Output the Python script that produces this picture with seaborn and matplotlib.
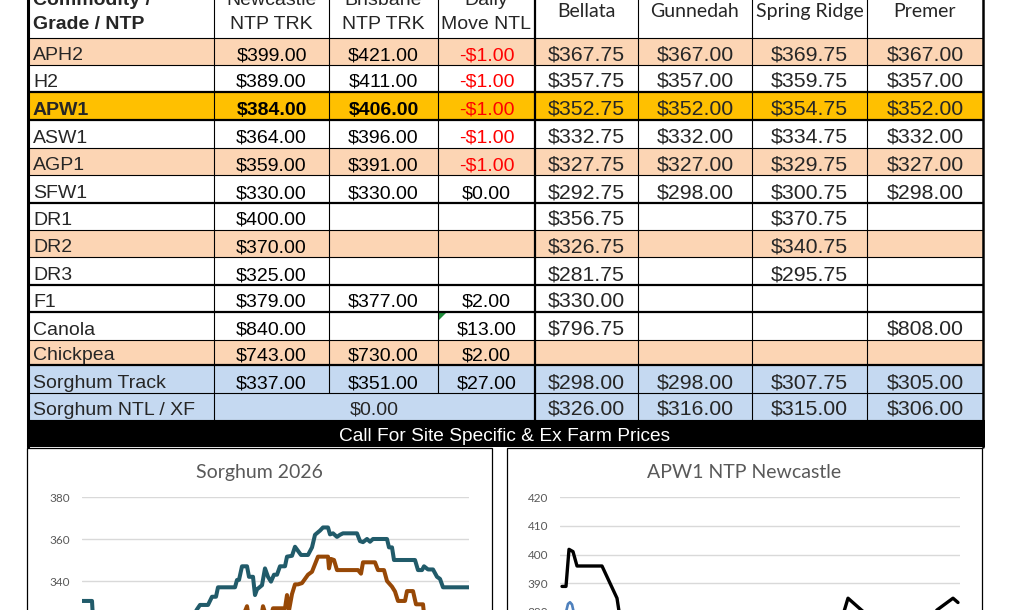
import numpy as np
import pandas as pd
import seaborn as sns
import matplotlib.pyplot as plt
from matplotlib.patches import Rectangle, Polygon

sns.set_style("white")
plt.rcParams['font.family'] = ['Liberation Sans', 'DejaVu Sans']

# ---- price table
grades = ["APH2", "H2", "APW1", "ASW1", "AGP1", "SFW1", "DR1", "DR2", "DR3",
          "F1", "Canola", "Chickpea", "Sorghum Track", "Sorghum NTL / XF"]
newcastle = [399, 389, 384, 364, 359, 330, 400, 370, 325, 379, 840, 743, 337, 0]
brisbane = [421, 411, 406, 396, 391, 330, None, None, None, 377, None, 730, 351, None]
daily_move = [-1, -1, -1, -1, -1, 0, None, None, None, 2, 13, 2, 27, None]
bellata = [367.75, 357.75, 352.75, 332.75, 327.75, 292.75, 356.75, 326.75, 281.75,
           330.00, 796.75, None, 298.00, 326.00]
gunnedah = [367, 357, 352, 332, 327, 298, None, None, None, None, None, None, 298, 316]
spring_ridge = [369.75, 359.75, 354.75, 334.75, 329.75, 300.75, 370.75, 340.75, 295.75,
                None, None, None, 307.75, 315]
premer = [367, 357, 352, 332, 327, 298, None, None, None, None, 808, None, 305, 306]
site_names = ["Bellata", "Gunnedah", "Spring Ridge", "Premer"]
banner = "Call For Site Specific & Ex Farm Prices"

# ---- Sorghum 2026 chart (day index, price)
sorghum_a_day = [0, 10, 11, 12, 40, 80, 105, 112, 115, 118, 126, 130, 134, 136, 153, 155,
                 157, 160, 165, 167, 171, 173, 175, 180, 183, 186, 189, 192, 195, 198, 203,
                 205, 210, 213, 215, 219, 226, 230, 233, 238, 241, 246, 248, 251, 255, 258,
                 261, 275, 278, 281, 285, 288, 291, 305, 307, 310, 312, 333, 336, 340, 342,
                 346, 351, 355, 358, 361, 387]
sorghum_a = [330.5, 330.5, 322, 318, 316, 317, 320, 324, 326.5, 328.6, 328.6, 332.5, 332.5,
             337, 337, 340.5, 340.5, 347, 347, 342, 342, 333.3, 336, 338, 346, 342, 339.7,
             343, 343, 347, 347, 351.6, 352, 356.3, 355, 352.4, 352.4, 356, 362, 364, 365.5,
             365.5, 362.2, 362.7, 361, 362, 362.7, 362.7, 359, 358.5, 360, 358.7, 360, 360,
             356, 356, 350, 350, 345.2, 345.2, 347, 345.5, 345.5, 342, 341, 337, 337]
sorghum_b_day = [0, 60, 120, 150, 160, 165, 166, 180, 181, 183, 190, 191, 203, 205, 207, 210,
                 213, 216, 220, 223, 226, 230, 233, 236, 246, 247, 249, 252, 255, 276, 279,
                 281, 293, 296, 302, 305, 310, 313, 316, 323, 325, 331, 334, 341, 343, 350,
                 387]
sorghum_b = [312, 308, 312, 318, 322, 328, 325, 325, 328, 325, 325, 327, 327, 333.3, 326,
             333.8, 338.4, 338.4, 339, 341, 343, 344.4, 348, 351.6, 351.6, 346, 350.5, 350,
             345.2, 345.2, 343.5, 348.9, 348.9, 345.2, 345.2, 340, 337.3, 335, 330.5, 330.5,
             335.2, 335.2, 328.9, 328.9, 320, 315, 312]

# ---- APW1 NTP Newcastle chart (day index, price)
apw1_day = [2, 6, 9, 13, 17, 42, 57, 60, 80, 120, 160, 200, 240, 270, 283, 288, 302, 320,
            350, 370, 377, 393, 398]
apw1 = [388.9, 388.9, 401.8, 401, 396, 396, 384.8, 378, 372, 368, 366, 368, 372, 376, 379,
        384.8, 380.5, 376, 374, 377, 380.7, 384.8, 383.3]
apw1_b_day = [2, 6, 8, 10, 12, 15, 25, 40, 100, 200, 300, 398]
apw1_b = [376, 380, 382.8, 383.4, 382.6, 378, 372, 366, 358, 356, 362, 364]

W, H = 1015, 610
fig = plt.figure(figsize=(W / 100, H / 100), dpi=100)
ax = fig.add_axes([0, 0, 1, 1])
ax.set_xlim(0, W)
ax.set_ylim(H, 0)
ax.axis('off')

col_x = [28, 214, 329, 438, 535, 638, 752, 867, 983]
row_y = [38, 65, 92, 120, 148, 175, 203, 230, 257, 285, 312, 340, 365, 393, 420]
top = -20
peach, gold, blue = '#FCD5B4', '#FFC000', '#C5D9F1'
row_fill = [peach, 'white', gold, 'white', peach, 'white', 'white', peach, 'white',
            'white', 'white', peach, blue, blue]
thick_rows = {92, 120, 203, 285, 312, 365}
thin, bold_lw = 0.8, 1.6

for i, c in enumerate(row_fill):
    ax.add_patch(Rectangle((col_x[0], row_y[i]), col_x[-1] - col_x[0],
                           row_y[i + 1] - row_y[i], facecolor=c, edgecolor='none'))

# horizontal rules
for y in row_y:
    ax.plot([col_x[0], col_x[-1]], [y, y], color='black',
            lw=bold_lw if y in thick_rows else thin, solid_capstyle='butt')
# vertical rules
for x in col_x[1:-1]:
    lw = bold_lw if x == 535 else thin
    y_end = row_y[-2] if x in (329, 438) else row_y[-1]
    ax.plot([x, x], [top, y_end], color='black', lw=lw)
ax.plot([col_x[0], col_x[0]], [top, 447], color='black', lw=2.2)
ax.plot([col_x[-1], col_x[-1]], [top, 447], color='black', lw=1.8)


def money(v):
    if v is None:
        return ''
    if v < 0:
        return f"-${abs(v):.2f}"
    return f"${v:.2f}"


# header
ax.text(33, 5, "Commodity /", fontsize=14, fontweight='bold', va='baseline')
ax.text(33, 29, "Grade / NTP", fontsize=14, fontweight='bold', va='baseline')
for (l1, l2), j in zip([("Newcastle", "NTP TRK"), ("Brisbane", "NTP TRK"),
                        ("Daily", "Move NTL")], range(1, 4)):
    cx = (col_x[j] + col_x[j + 1]) / 2
    ax.text(cx, 5, l1, fontsize=14, ha='center', va='baseline')
    ax.text(cx, 29, l2, fontsize=14, ha='center', va='baseline')
for name, j in zip(site_names, range(4, 8)):
    cx = (col_x[j] + col_x[j + 1]) / 2
    ax.text(cx, 17, name, fontsize=14, ha='center', va='baseline', family=['Lato', 'DejaVu Sans'])

# body
left_cols = [newcastle, brisbane, daily_move]
right_cols = [bellata, gunnedah, spring_ridge, premer]
for i, g in enumerate(grades):
    base = row_y[i + 1] - 5
    weight = 'bold' if g == "APW1" else 'normal'
    ax.text(33, base, g, fontsize=14, va='baseline', fontweight=weight)
    if g == "Sorghum NTL / XF":
        ax.text((col_x[1] + col_x[4]) / 2, base, money(newcastle[i]), fontsize=14,
                ha='center', va='baseline')
    else:
        for j, col in enumerate(left_cols):
            v = col[i]
            cx = (col_x[j + 1] + col_x[j + 2]) / 2
            clr = 'red' if (j == 2 and v is not None and v < 0) else 'black'
            w = weight if j < 2 else 'normal'
            ax.text(cx, base, money(v), fontsize=14, ha='center', va='baseline',
                    color=clr, fontweight=w)
    for j, col in enumerate(right_cols):
        cx = (col_x[j + 4] + col_x[j + 5]) / 2
        ax.text(cx, base, money(col[i]), fontsize=15.3, ha='center', va='baseline')

# comment marker on Canola daily move
ax.add_patch(Polygon([[439, 313], [446, 313], [439, 320]], closed=True,
                     facecolor='#1E8C3A', edgecolor='none'))

# black banner
ax.add_patch(Rectangle((27, 420), 958, 27, facecolor='black', edgecolor='none'))
ax.text(505, 441, banner, fontsize=13.8, color='white', ha='center', va='baseline')

# chart frames
ax.add_patch(Rectangle((27, 448), 465.5, 200, facecolor='white', edgecolor='black', lw=0.9))
ax.add_patch(Rectangle((507, 448), 475, 200, facecolor='white', edgecolor='black', lw=0.9))
ax.text(259.5, 478, "Sorghum 2026", fontsize=14, color='#595959', ha='center',
        va='baseline', family=['Lato', 'DejaVu Sans'])
ax.text(744.5, 478, "APW1 NTP Newcastle", fontsize=14, color='#595959', ha='center',
        va='baseline', family=['Lato', 'DejaVu Sans'])


def style_chart(a, ticks):
    a.patch.set_visible(False)
    a.set_yticks(ticks)
    a.set_xticks([])
    a.set_xlabel('')
    a.set_ylabel('')
    a.grid(axis='y', color='#D9D9D9', lw=1)
    a.set_axisbelow(True)
    for s in a.spines.values():
        s.set_visible(False)
    a.tick_params(axis='y', length=0, pad=8.6, labelsize=8.5, labelcolor='#595959')
    for lab in a.get_yticklabels():
        lab.set_fontfamily('Lato')


ax1 = fig.add_axes([82 / W, 1 - (497 + 168) / H, 387 / W, 168 / H])
sns.lineplot(x=sorghum_a_day, y=sorghum_a, ax=ax1, color='#215B6A', lw=2.9,
             estimator=None, sort=False)
sns.lineplot(x=sorghum_b_day, y=sorghum_b, ax=ax1, color='#974806', lw=2.9,
             estimator=None, sort=False)
ax1.set_xlim(0, 387)
ax1.set_ylim(300, 380)
style_chart(ax1, [300, 320, 340, 360, 380])

ax2 = fig.add_axes([560 / W, 1 - (497 + 230) / H, 400 / W, 230 / H])
sns.lineplot(x=apw1_b_day, y=apw1_b, ax=ax2, color='#4F81BD', lw=1.9,
             estimator=None, sort=False)
sns.lineplot(x=apw1_day, y=apw1, ax=ax2, color='black', lw=2.4,
             estimator=None, sort=False)
ax2.set_xlim(0, 400)
ax2.set_ylim(340, 420)
style_chart(ax2, list(range(340, 421, 10)))

fig.savefig("out.png", dpi=100)
